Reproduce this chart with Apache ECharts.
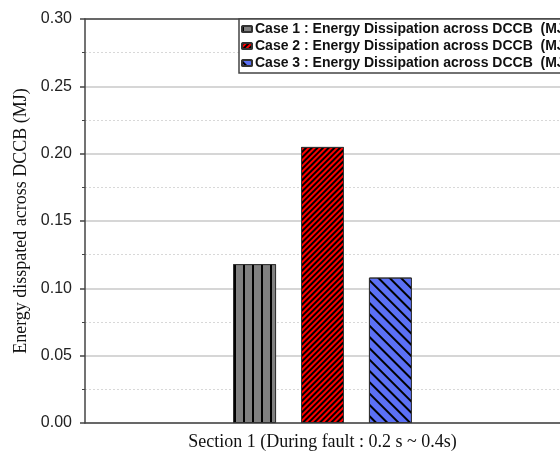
<!DOCTYPE html>
<html>
<head>
<meta charset="utf-8">
<script src="https://cdn.jsdelivr.net/npm/echarts@6/dist/echarts.min.js"></script>
<style>
  html, body { margin: 0; padding: 0; background: #fff; }
  #chart { width: 560px; height: 457px; }
</style>
</head>
<body>
<div id="chart"></div>
<script>
var categories = ['Section 1 (During fault : 0.2 s ~ 0.4s)'];
var seriesNames = [
  'Case 1 : Energy Dissipation across DCCB  (MJ)',
  'Case 2 : Energy Dissipation across DCCB  (MJ)',
  'Case 3 : Energy Dissipation across DCCB  (MJ)'
];
var case1 = [0.118];
var case2 = [0.205];
var case3 = [0.108];

var chart = echarts.init(document.getElementById('chart'));

chart.setOption({
  animation: false,
  backgroundColor: '#fff',
  grid: { left: 85, right: 0, top: 19, bottom: 34, outerBoundsMode: 'none', containLabel: false },
  legend: {
    orient: 'vertical',
    left: 239,
    top: 19,
    padding: [3, 40, 3, 2],
    itemWidth: 10,
    itemHeight: 6,
    itemGap: 3,
    borderColor: '#444',
    borderWidth: 1.5,
    borderRadius: 0,
    backgroundColor: '#fff',
    textStyle: { fontFamily: 'Liberation Sans, Arial', fontWeight: 'bold', fontSize: 14, color: '#111', padding: [0, 0, 0, -2] },
    data: seriesNames
  },
  xAxis: [{
    type: 'category',
    data: categories,
    axisLine: { lineStyle: { color: '#444', width: 1.5 } },
    axisTick: { show: false },
    axisLabel: { fontFamily: 'Liberation Serif, Times New Roman', fontSize: 18, color: '#111', margin: 10 }
  }, {
    type: 'category',
    position: 'top',
    data: categories,
    axisLine: { show: true, lineStyle: { color: '#444', width: 1.5 } },
    axisTick: { show: false },
    axisLabel: { show: false }
  }],
  yAxis: {
    type: 'value',
    min: 0,
    max: 0.3,
    interval: 0.05,
    name: 'Energy disspated across DCCB (MJ)',
    nameLocation: 'middle',
    nameGap: 53,
    nameTextStyle: { fontFamily: 'Liberation Serif, Times New Roman', fontSize: 18, color: '#111' },
    axisLine: { show: true, lineStyle: { color: '#444', width: 1.5 } },
    axisTick: { show: true, inside: false, length: 5, lineStyle: { color: '#444', width: 1.5 } },
    minorTick: { show: true, splitNumber: 2, length: 3, lineStyle: { color: '#444', width: 1 } },
    axisLabel: {
      fontFamily: 'Liberation Sans, Arial', fontSize: 16, color: '#222', margin: 13,
      formatter: function (v) { return v.toFixed(2); }
    },
    splitLine: { show: true, lineStyle: { color: '#c8c8c8', width: 1.5 } },
    minorSplitLine: { show: true, lineStyle: { color: '#d8d8d8', width: 1, type: [2, 2] } }
  },
  series: [{
    name: seriesNames[0],
    type: 'bar',
    data: case1,
    barWidth: 43,
    barGap: '58%',
    itemStyle: {
      color: '#808080',
      borderColor: '#333',
      borderWidth: 1,
      decal: { symbol: 'rect', color: '#000', dashArrayX: [2, 6.5], dashArrayY: [1, 0], rotation: 0 }
    }
  }, {
    name: seriesNames[1],
    type: 'bar',
    data: case2,
    barWidth: 43,
    barGap: '58%',
    itemStyle: {
      color: '#ff0000',
      borderColor: '#333',
      borderWidth: 1,
      decal: { symbol: 'rect', color: '#000', dashArrayX: [1, 0], dashArrayY: [1.5, 1.7], rotation: -Math.PI / 4 }
    }
  }, {
    name: seriesNames[2],
    type: 'bar',
    data: case3,
    barWidth: 43,
    barGap: '58%',
    itemStyle: {
      color: '#5b70f5',
      borderColor: '#333',
      borderWidth: 1,
      decal: { symbol: 'rect', color: '#000', dashArrayX: [1, 0], dashArrayY: [1.5, 5.5], rotation: Math.PI / 4 }
    }
  }]
});
</script>
</body>
</html>
